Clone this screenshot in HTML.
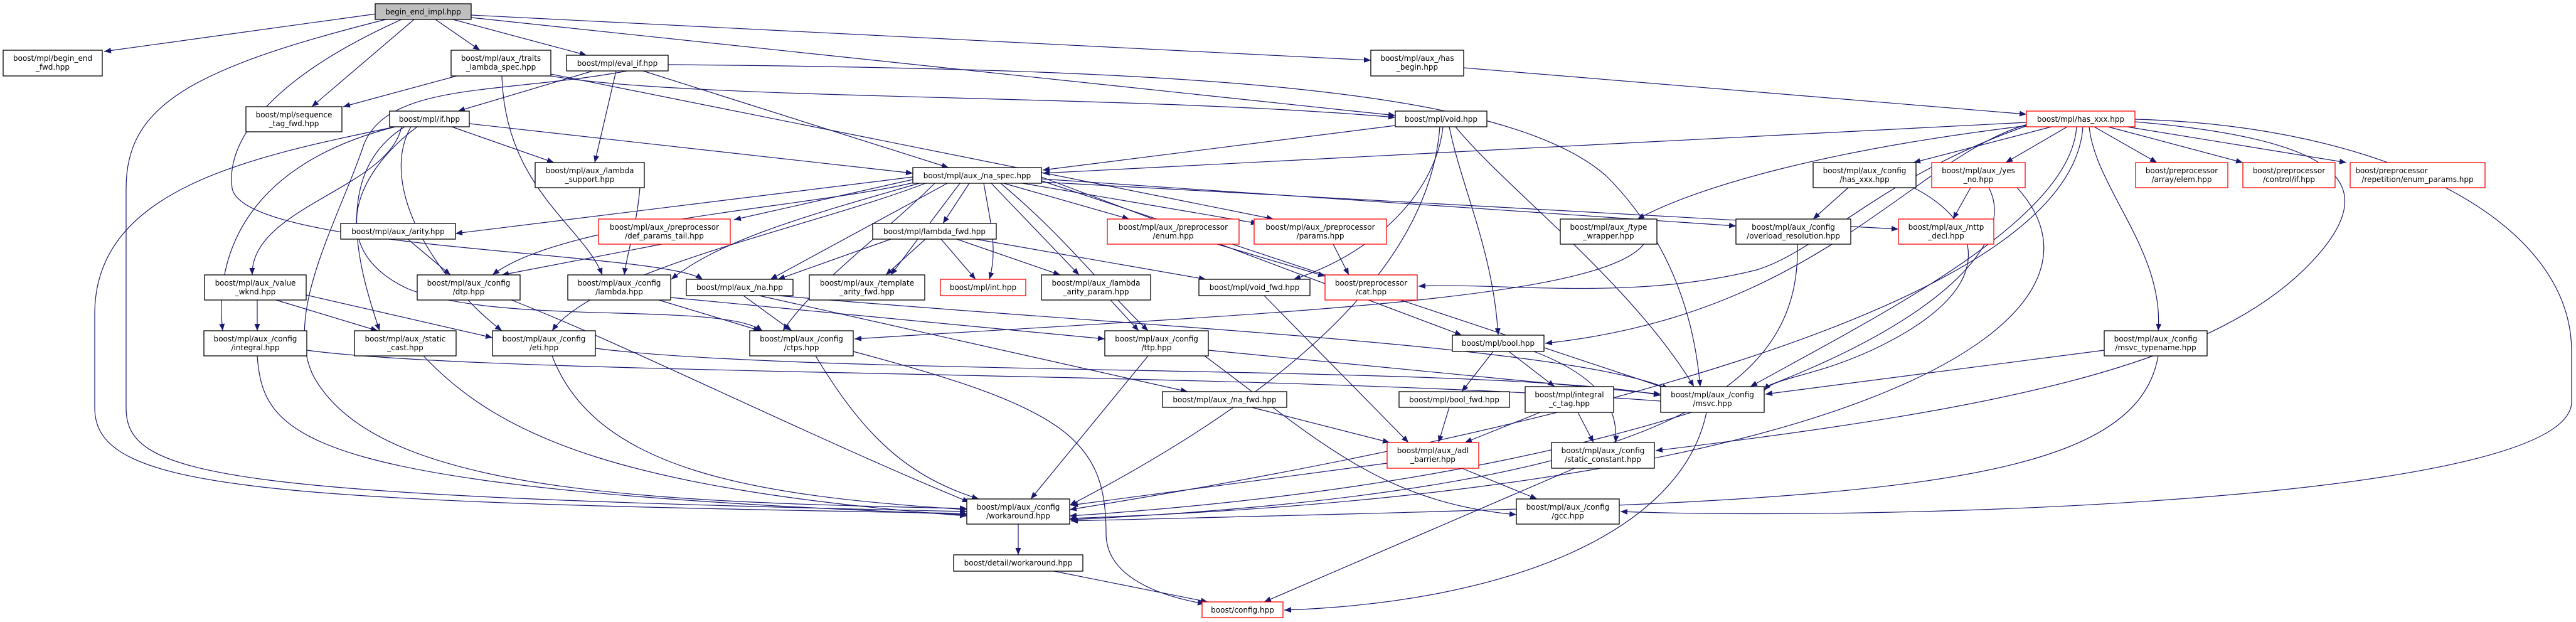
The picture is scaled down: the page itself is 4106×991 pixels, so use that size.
<!DOCTYPE html>
<html><head><meta charset="utf-8"><style>
html,body{margin:0;padding:0;background:#fff;}
svg{display:block;}
text{font-family:"DejaVu Sans","Liberation Sans",sans-serif;font-size:12px;fill:#000;text-anchor:middle;}
.e{fill:none;stroke:#191970;stroke-width:1.2;marker-end:url(#a);}
.n{fill:#fff;stroke:#000;stroke-width:1.3;}
.r{fill:#fff;stroke:#ff0000;stroke-width:1.3;}
</style></head><body>
<svg width="4106" height="991" viewBox="0 0 4106 991" xmlns="http://www.w3.org/2000/svg">
<defs><marker id="a" markerUnits="userSpaceOnUse" markerWidth="12" markerHeight="9" refX="11" refY="4.5" orient="auto"><path d="M0,0 L11,4.5 L0,9 z" fill="#191970"/></marker></defs>
<g>
<path class="e" d="M600,22 L166,82"/>
<path class="e" d="M660,31 L497,170"/>
<path class="e" d="M694,31 L765,80"/>
<path class="e" d="M722,31 L935,88"/>
<path class="e" d="M751,24 L2185,96"/>
<path class="e" d="M751,28 L2224,184"/>
<path class="e" d="M615,31 C300,110 201,170 201,300 L201,650 C201,760 350,790 1541,815"/>
<path class="e" d="M640,31 C420,130 360,230 370,300 C390,400 1050,400 1120,445"/>
<path class="e" d="M728,121 L547,170"/>
<path class="e" d="M800,121 C805,300 930,360 960,438"/>
<path class="e" d="M878,121 C1100,160 1800,150 2224,187"/>
<path class="e" d="M878,118 L2030,349"/>
<path class="e" d="M945,113 L730,177"/>
<path class="e" d="M982,113 L948,259"/>
<path class="e" d="M1025,113 L1512,267"/>
<path class="e" d="M1065,103 C1900,110 2400,140 2560,280 C2660,380 2700,500 2710,616"/>
<path class="e" d="M1000,113 C800,150 620,130 580,230 C540,350 450,500 500,600 C600,780 1000,800 1541,810"/>
<path class="e" d="M720,202 L883,259"/>
<path class="e" d="M748,197 L1455,276"/>
<path class="e" d="M640,202 C620,300 400,330 402,438"/>
<path class="e" d="M630,202 C400,260 340,400 355,527"/>
<path class="e" d="M645,202 C520,280 580,450 605,527"/>
<path class="e" d="M655,202 C600,300 700,450 800,527"/>
<path class="e" d="M630,202 C400,250 151,300 151,500 L151,650 C151,780 400,800 1541,818"/>
<path class="e" d="M665,202 C560,280 520,400 650,460 C800,520 1150,480 1215,527"/>
<path class="e" d="M1545,292 L1503,356"/>
<path class="e" d="M1568,292 C1580,360 1590,400 1577,445"/>
<path class="e" d="M1580,292 L1720,438"/>
<path class="e" d="M1600,292 L1800,349"/>
<path class="e" d="M1630,292 L2005,356"/>
<path class="e" d="M1530,292 L1420,438"/>
<path class="e" d="M1510,292 L1228,445"/>
<path class="e" d="M1455,282 L726,372"/>
<path class="e" d="M1455,286 L1170,350"/>
<path class="e" d="M1460,290 C1300,330 900,350 785,438"/>
<path class="e" d="M1465,292 C1300,340 1150,380 1070,445"/>
<path class="e" d="M1475,292 C1300,360 950,430 880,527"/>
<path class="e" d="M1490,292 C1400,380 1300,450 1248,527"/>
<path class="e" d="M1595,292 C1700,380 1750,450 1830,527"/>
<path class="e" d="M1660,282 L2330,534"/>
<path class="e" d="M1660,285 L2767,360"/>
<path class="e" d="M1660,290 L3026,365"/>
<path class="e" d="M1660,288 L2660,620"/>
<path class="e" d="M2224,200 L1662,271"/>
<path class="e" d="M2300,202 C2290,300 2200,400 2062,445"/>
<path class="e" d="M2310,202 C2330,300 2380,400 2388,534"/>
<path class="e" d="M2295,202 C2280,400 2100,600 1705,805"/>
<path class="e" d="M2320,202 C2400,300 2600,450 2700,616"/>
<path class="e" d="M2333,108 L3230,182"/>
<path class="e" d="M3230,195 L1662,276"/>
<path class="e" d="M3270,202 L3050,259"/>
<path class="e" d="M3295,202 L3197,259"/>
<path class="e" d="M3338,202 L3438,259"/>
<path class="e" d="M3360,202 L3575,259"/>
<path class="e" d="M3390,202 L3740,259"/>
<path class="e" d="M3232,200 C2900,240 2700,300 2610,349"/>
<path class="e" d="M3232,200 C3000,280 2900,400 2800,430 C2600,480 2400,450 2261,456"/>
<path class="e" d="M3232,198 C3050,250 2900,500 2463,547"/>
<path class="e" d="M3330,202 C3340,300 3450,400 3440,527"/>
<path class="e" d="M3310,202 C3300,350 3000,500 2790,616"/>
<path class="e" d="M3320,202 C3300,500 2400,700 1705,812"/>
<path class="e" d="M3403,190 C3800,200 4099,350 4099,560 L4099,640 C4099,800 3000,830 2583,815"/>
<path class="e" d="M3403,194 C3700,220 3800,280 3700,400 C3550,580 3200,650 2639,718"/>
<path class="e" d="M2946,299 L2890,349"/>
<path class="e" d="M3050,299 C3150,350 3200,450 3000,550 C2900,600 2830,600 2812,622"/>
<path class="e" d="M3141,299 L3113,349"/>
<path class="e" d="M3170,299 C3250,450 2800,750 1705,822"/>
<path class="e" d="M3215,299 C3400,500 3000,780 1705,826"/>
<path class="e" d="M2865,389 C2870,600 2700,780 1705,828"/>
<path class="e" d="M2620,389 C2550,480 2000,500 1362,540"/>
<path class="e" d="M1475,381 L1412,438"/>
<path class="e" d="M1500,381 L1555,445"/>
<path class="e" d="M1525,381 L1690,438"/>
<path class="e" d="M1555,381 L1922,445"/>
<path class="e" d="M1420,381 L1240,445"/>
<path class="e" d="M1020,299 C1015,360 1000,400 995,438"/>
<path class="e" d="M650,381 L718,438"/>
<path class="e" d="M1055,389 L800,438"/>
<path class="e" d="M1940,389 L2112,440"/>
<path class="e" d="M2125,389 L2150,438"/>
<path class="e" d="M1210,471 L1893,624"/>
<path class="e" d="M1185,471 L1262,527"/>
<path class="e" d="M1240,471 C1800,520 2500,550 2660,620"/>
<path class="e" d="M1050,478 L1212,527"/>
<path class="e" d="M1069,474 L1761,540"/>
<path class="e" d="M1770,478 L1815,527"/>
<path class="e" d="M2015,471 L2245,705"/>
<path class="e" d="M410,478 L410,527"/>
<path class="e" d="M440,478 L602,527"/>
<path class="e" d="M488,470 L785,538"/>
<path class="e" d="M410,567 C420,700 480,780 1541,820"/>
<path class="e" d="M489,558 C800,600 2000,590 2660,640"/>
<path class="e" d="M675,567 C800,700 1000,780 1541,822"/>
<path class="e" d="M880,567 C950,750 1200,790 1541,812"/>
<path class="e" d="M949,555 C1300,600 2400,580 2647,630"/>
<path class="e" d="M1300,567 C1380,700 1450,760 1560,795"/>
<path class="e" d="M1360,560 C1700,650 1763,700 1763,850 C1763,920 1850,950 1920,962"/>
<path class="e" d="M815,478 C1000,550 1300,700 1545,800"/>
<path class="e" d="M1830,567 L1643,795"/>
<path class="e" d="M1920,567 C2100,700 2200,800 2417,820"/>
<path class="e" d="M1926,558 L2647,628"/>
<path class="e" d="M2380,560 L2330,624"/>
<path class="e" d="M2405,560 L2478,616"/>
<path class="e" d="M2445,560 C2550,600 2580,650 2575,705"/>
<path class="e" d="M2310,649 L2293,705"/>
<path class="e" d="M2455,657 L2335,705"/>
<path class="e" d="M2515,657 L2540,705"/>
<path class="e" d="M1995,649 L2215,705"/>
<path class="e" d="M2211,738 L1707,805"/>
<path class="e" d="M2330,746 L2450,795"/>
<path class="e" d="M2510,746 L2015,959"/>
<path class="e" d="M2720,657 C2680,850 2400,960 2047,972"/>
<path class="e" d="M3354,558 L2814,628"/>
<path class="e" d="M3440,567 C3400,800 2900,800 1707,830"/>
<path class="e" d="M1623,835 L1623,884"/>
<path class="e" d="M1680,910 L1925,959"/>
</g>
<g>
<rect x="598" y="6" width="153" height="25" fill="#bfbfbf" stroke="#000" stroke-width="1.3"/><text x="674.5" y="23">begin_end_impl.hpp</text>
<rect class="n" x="5" y="80" width="158" height="41"/><text x="84" y="97">boost/mpl/begin_end</text><text x="84" y="111">_fwd.hpp</text>
<rect class="n" x="719" y="80" width="159" height="41"/><text x="798.5" y="97">boost/mpl/aux_/traits</text><text x="798.5" y="111">_lambda_spec.hpp</text>
<rect class="n" x="903" y="88" width="162" height="25"/><text x="984" y="105">boost/mpl/eval_if.hpp</text>
<rect class="n" x="2185" y="80" width="148" height="41"/><text x="2259" y="97">boost/mpl/aux_/has</text><text x="2259" y="111">_begin.hpp</text>
<rect class="n" x="392" y="170" width="153" height="40"/><text x="468.5" y="187">boost/mpl/sequence</text><text x="468.5" y="201">_tag_fwd.hpp</text>
<rect class="n" x="621" y="177" width="127" height="25"/><text x="684.5" y="194">boost/mpl/if.hpp</text>
<rect class="n" x="2224" y="177" width="146" height="25"/><text x="2297" y="194">boost/mpl/void.hpp</text>
<rect class="r" x="3230" y="177" width="173" height="25"/><text x="3316.5" y="194">boost/mpl/has_xxx.hpp</text>
<rect class="n" x="853" y="259" width="174" height="40"/><text x="940" y="276">boost/mpl/aux_/lambda</text><text x="940" y="290">_support.hpp</text>
<rect class="n" x="1455" y="267" width="205" height="25"/><text x="1557.5" y="284">boost/mpl/aux_/na_spec.hpp</text>
<rect class="n" x="2890" y="259" width="164" height="40"/><text x="2972" y="276">boost/mpl/aux_/config</text><text x="2972" y="290">/has_xxx.hpp</text>
<rect class="r" x="3079" y="259" width="149" height="40"/><text x="3153.5" y="276">boost/mpl/aux_/yes</text><text x="3153.5" y="290">_no.hpp</text>
<rect class="r" x="3404" y="259" width="147" height="40"/><text x="3477.5" y="276">boost/preprocessor</text><text x="3477.5" y="290">/array/elem.hpp</text>
<rect class="r" x="3575" y="259" width="147" height="40"/><text x="3648.5" y="276">boost/preprocessor</text><text x="3648.5" y="290">/control/if.hpp</text>
<rect class="r" x="3746" y="259" width="215" height="40"/><text x="3812" y="276">boost/preprocessor</text><text x="3853.5" y="290">/repetition/enum_params.hpp</text>
<rect class="n" x="543" y="356" width="183" height="25"/><text x="634.5" y="373">boost/mpl/aux_/arity.hpp</text>
<rect class="r" x="954" y="349" width="210" height="40"/><text x="1059" y="366">boost/mpl/aux_/preprocessor</text><text x="1059" y="380">/def_params_tail.hpp</text>
<rect class="n" x="1391" y="356" width="197" height="25"/><text x="1489.5" y="373">boost/mpl/lambda_fwd.hpp</text>
<rect class="r" x="1765" y="349" width="210" height="40"/><text x="1870" y="366">boost/mpl/aux_/preprocessor</text><text x="1870" y="380">/enum.hpp</text>
<rect class="r" x="1999" y="349" width="211" height="40"/><text x="2104.5" y="366">boost/mpl/aux_/preprocessor</text><text x="2104.5" y="380">/params.hpp</text>
<rect class="n" x="2487" y="349" width="154" height="40"/><text x="2564" y="366">boost/mpl/aux_/type</text><text x="2564" y="380">_wrapper.hpp</text>
<rect class="n" x="2767" y="349" width="183" height="40"/><text x="2858.5" y="366">boost/mpl/aux_/config</text><text x="2858.5" y="380">/overload_resolution.hpp</text>
<rect class="r" x="3026" y="349" width="152" height="40"/><text x="3102" y="366">boost/mpl/aux_/nttp</text><text x="3102" y="380">_decl.hpp</text>
<rect class="n" x="326" y="438" width="162" height="40"/><text x="407" y="455">boost/mpl/aux_/value</text><text x="407" y="469">_wknd.hpp</text>
<rect class="n" x="665" y="438" width="164" height="40"/><text x="747" y="455">boost/mpl/aux_/config</text><text x="747" y="469">/dtp.hpp</text>
<rect class="n" x="905" y="438" width="164" height="40"/><text x="987" y="455">boost/mpl/aux_/config</text><text x="987" y="469">/lambda.hpp</text>
<rect class="n" x="1094" y="445" width="170" height="26"/><text x="1179" y="462">boost/mpl/aux_/na.hpp</text>
<rect class="n" x="1290" y="438" width="184" height="40"/><text x="1382" y="455">boost/mpl/aux_/template</text><text x="1382" y="469">_arity_fwd.hpp</text>
<rect class="r" x="1499" y="445" width="136" height="26"/><text x="1567" y="462">boost/mpl/int.hpp</text>
<rect class="n" x="1660" y="438" width="174" height="40"/><text x="1747" y="455">boost/mpl/aux_/lambda</text><text x="1747" y="469">_arity_param.hpp</text>
<rect class="n" x="1911" y="445" width="177" height="26"/><text x="1999.5" y="462">boost/mpl/void_fwd.hpp</text>
<rect class="r" x="2112" y="438" width="147" height="40"/><text x="2185.5" y="455">boost/preprocessor</text><text x="2185.5" y="469">/cat.hpp</text>
<rect class="n" x="325" y="527" width="164" height="40"/><text x="407" y="544">boost/mpl/aux_/config</text><text x="407" y="558">/integral.hpp</text>
<rect class="n" x="565" y="527" width="162" height="40"/><text x="646" y="544">boost/mpl/aux_/static</text><text x="646" y="558">_cast.hpp</text>
<rect class="n" x="785" y="527" width="164" height="40"/><text x="867" y="544">boost/mpl/aux_/config</text><text x="867" y="558">/eti.hpp</text>
<rect class="n" x="1195" y="527" width="165" height="40"/><text x="1277.5" y="544">boost/mpl/aux_/config</text><text x="1277.5" y="558">/ctps.hpp</text>
<rect class="n" x="1761" y="527" width="165" height="40"/><text x="1843.5" y="544">boost/mpl/aux_/config</text><text x="1843.5" y="558">/ttp.hpp</text>
<rect class="n" x="2315" y="534" width="146" height="26"/><text x="2388" y="551">boost/mpl/bool.hpp</text>
<rect class="n" x="3354" y="527" width="164" height="40"/><text x="3436" y="544">boost/mpl/aux_/config</text><text x="3436" y="558">/msvc_typename.hpp</text>
<rect class="n" x="1853" y="624" width="198" height="25"/><text x="1952" y="641">boost/mpl/aux_/na_fwd.hpp</text>
<rect class="n" x="2230" y="624" width="176" height="25"/><text x="2318" y="641">boost/mpl/bool_fwd.hpp</text>
<rect class="n" x="2431" y="616" width="141" height="41"/><text x="2501.5" y="633">boost/mpl/integral</text><text x="2501.5" y="647">_c_tag.hpp</text>
<rect class="n" x="2647" y="616" width="165" height="41"/><text x="2729.5" y="633">boost/mpl/aux_/config</text><text x="2729.5" y="647">/msvc.hpp</text>
<rect class="r" x="2211" y="705" width="146" height="41"/><text x="2284" y="722">boost/mpl/aux_/adl</text><text x="2284" y="736">_barrier.hpp</text>
<rect class="n" x="2473" y="705" width="164" height="41"/><text x="2555" y="722">boost/mpl/aux_/config</text><text x="2555" y="736">/static_constant.hpp</text>
<rect class="n" x="1541" y="795" width="164" height="40"/><text x="1623" y="812">boost/mpl/aux_/config</text><text x="1623" y="826">/workaround.hpp</text>
<rect class="n" x="2417" y="795" width="164" height="40"/><text x="2499" y="812">boost/mpl/aux_/config</text><text x="2499" y="826">/gcc.hpp</text>
<rect class="n" x="1520" y="884" width="206" height="26"/><text x="1623" y="901">boost/detail/workaround.hpp</text>
<rect class="r" x="1916" y="959" width="129" height="25"/><text x="1980.5" y="976">boost/config.hpp</text>
</g>
</svg>
</body></html>
